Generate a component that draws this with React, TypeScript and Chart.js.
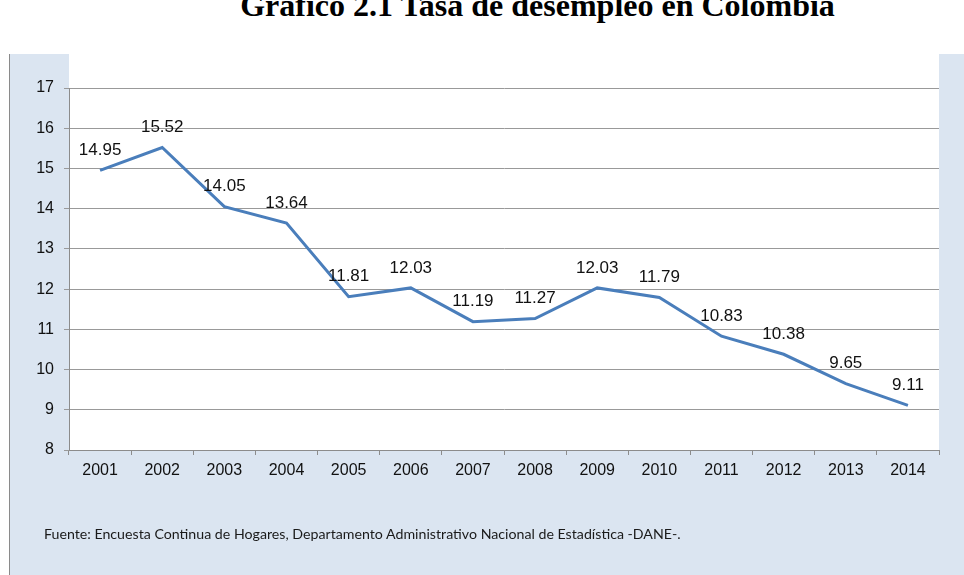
import React, { useEffect, useRef } from "react";
import { Chart, registerables } from "chart.js";

Chart.register(...registerables);

const titleText = "Gráfico 2.1 Tasa de desempleo en Colombia";
const sourceText =
  "Fuente: Encuesta Continua de Hogares, Departamento Administrativo Nacional de Estadística -DANE-.";
const years = ["2001", "2002", "2003", "2004", "2005", "2006", "2007", "2008", "2009", "2010", "2011", "2012", "2013", "2014"];
const unemploymentRate = [14.95, 15.52, 14.05, 13.64, 11.81, 12.03, 11.19, 11.27, 12.03, 11.79, 10.83, 10.38, 9.65, 9.11];
const yMin = 8;
const yMax = 17;

const plotBackground = {
  id: "plotBackground",
  beforeDraw(chart: any) {
    const { ctx, chartArea } = chart;
    ctx.save();
    ctx.fillStyle = "#ffffff";
    ctx.fillRect(chartArea.left, 0, chartArea.right - chartArea.left, chartArea.bottom);
    ctx.restore();
  },
};

const valueLabels = {
  id: "valueLabels",
  afterDatasetsDraw(chart: any) {
    const { ctx } = chart;
    const meta = chart.getDatasetMeta(0);
    const data = chart.data.datasets[0].data as number[];
    ctx.save();
    ctx.font = "17px 'Liberation Sans', Arial, sans-serif";
    ctx.fillStyle = "#111111";
    ctx.textAlign = "center";
    ctx.textBaseline = "middle";
    meta.data.forEach((pt: any, i: number) => {
      ctx.fillText(data[i].toFixed(2), pt.x, pt.y - 20);
    });
    ctx.restore();
  },
};

function LineChart() {
  const ref = useRef<HTMLCanvasElement | null>(null);
  useEffect(() => {
    if (!ref.current) return;
    const chart = new Chart(ref.current, {
      type: "line",
      data: {
        labels: years,
        datasets: [
          {
            data: unemploymentRate,
            borderColor: "#4a7ebb",
            borderWidth: 3,
            pointRadius: 0,
            tension: 0,
            fill: false,
          },
        ],
      },
      options: {
        animation: false,
        responsive: false,
        maintainAspectRatio: false,
        layout: { padding: { left: 0, right: 26, top: 34, bottom: 0 } },
        plugins: {
          legend: { display: false },
          tooltip: { enabled: false },
          title: { display: false },
        },
        scales: {
          x: {
            offset: true,
            grid: {
              offset: true,
              drawOnChartArea: false,
              drawTicks: true,
              tickLength: 5,
              color: "#8c8c8c",
            },
            border: { display: true, color: "#8c8c8c", width: 1 },
            ticks: {
              color: "#111111",
              font: { family: "'Liberation Sans', Arial, sans-serif", size: 16 },
              padding: 6,
              maxRotation: 0,
              autoSkip: false,
            },
            afterFit(scale: any) {
              scale.height = 125;
            },
          },
          y: {
            min: yMin,
            max: yMax,
            grid: {
              color: "#999999",
              drawTicks: true,
              tickLength: 5,
            },
            border: { display: true, color: "#8c8c8c", width: 1 },
            ticks: {
              stepSize: 1,
              color: "#111111",
              font: { family: "'Liberation Sans', Arial, sans-serif", size: 16 },
              padding: 10,
            },
            afterFit(scale: any) {
              scale.width = 58;
            },
          },
        },
      },
      plugins: [plotBackground, valueLabels],
    });
    return () => chart.destroy();
  }, []);
  return <canvas ref={ref} width={954} height={521} style={{ position: "absolute", left: 1, top: 0, width: 954, height: 521 }} />;
}

export default function App() {
  return (
    <div style={{ position: "fixed", left: 0, top: 0, width: 964, height: 575, background: "#ffffff", overflow: "hidden" }}>
      <div
        style={{
          position: "absolute",
          left: 0,
          width: 1075,
          top: -11,
          textAlign: "center",
          fontFamily: "'Liberation Serif', 'Times New Roman', serif",
          fontWeight: "bold",
          fontSize: 32,
          lineHeight: "32px",
          whiteSpace: "nowrap",
          color: "#000",
        }}
      >
        {titleText}
      </div>
      <div
        style={{
          position: "absolute",
          left: 9,
          top: 54,
          width: 955,
          height: 521,
          background: "#dbe5f1",
          borderLeft: "1px solid #8a8a8a",
          boxSizing: "border-box",
        }}
      >
        <LineChart />
        <div
          style={{
            position: "absolute",
            left: 34,
            top: 472,
            fontFamily: "Lato, 'Open Sans', sans-serif",
            fontSize: 14.2,
            lineHeight: "16px",
            whiteSpace: "nowrap",
            color: "#1a1a1a",
          }}
        >
          {sourceText}
        </div>
      </div>
    </div>
  );
}
